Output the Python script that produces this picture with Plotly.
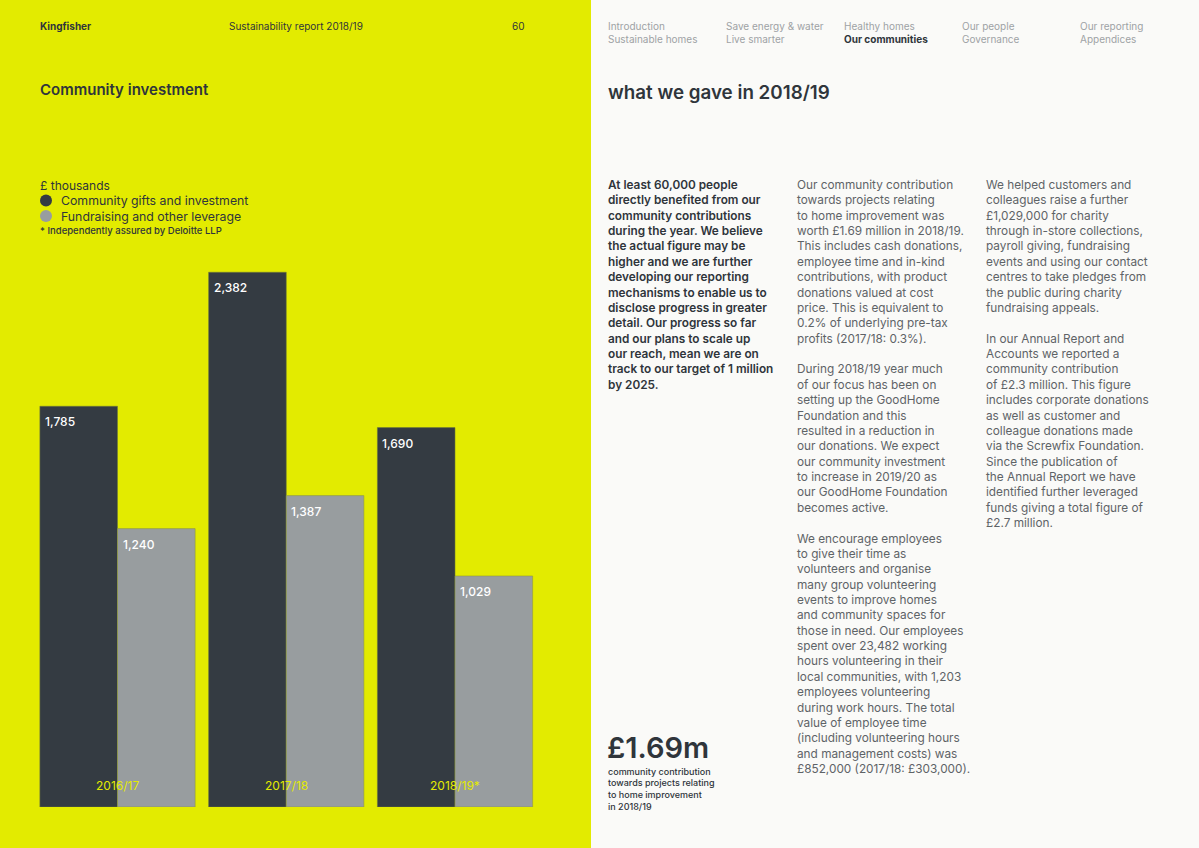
import plotly.graph_objects as go

# ---------------- data ----------------
years = ["2016/17", "2017/18", "2018/19*"]
series_names = ["Community gifts and investment", "Fundraising and other leverage"]
gifts = [1785, 2382, 1690]
fundraising = [1240, 1387, 1029]
value_labels_gifts = ["1,785", "2,382", "1,690"]
value_labels_fund = ["1,240", "1,387", "1,029"]

W, H = 1199, 848
YELLOW = "#E3EB00"
DARK = "#343B42"
GREY = "#989D9F"
PAGE = "#FAFAF8"
FONT = "Inter"


def px(x, y):
    return x / W, 1 - y / H


fig = go.Figure()
xs = list(range(len(years)))
BW = 0.46
fig.add_trace(go.Bar(x=xs, y=gifts, width=BW, offset=-BW, name=series_names[0],
                     marker=dict(color=DARK, line=dict(color="rgba(110,120,60,0.7)", width=0.8)),
                     showlegend=False, hoverinfo="y"))
fig.add_trace(go.Bar(x=xs, y=fundraising, width=BW, offset=0, name=series_names[1],
                     marker=dict(color=GREY, line=dict(color="rgba(140,150,60,0.7)", width=0.8)),
                     showlegend=False, hoverinfo="y"))

ann = []
# value labels inside bars (top-left)
for i in xs:
    ann.append(dict(x=i - BW, y=gifts[i], xref="x", yref="y", text=value_labels_gifts[i],
                    xanchor="left", yanchor="top", xshift=3, yshift=-6, showarrow=False,
                    font=dict(family=FONT, size=12, color="white", weight=500)))
    ann.append(dict(x=i, y=fundraising[i], xref="x", yref="y", text=value_labels_fund[i],
                    xanchor="left", yanchor="top", xshift=3, yshift=-6, showarrow=False,
                    font=dict(family=FONT, size=12, color="white", weight=500)))
    ann.append(dict(x=i, y=0, xref="x", yref="y", text=years[i], xanchor="center",
                    yanchor="bottom", yshift=12, showarrow=False,
                    font=dict(family=FONT, size=12, color=YELLOW)))


def text(x, y, t, size, color, weight=400, xanchor="left", yanchor="middle"):
    px_, py_ = px(x, y)
    ann.append(dict(x=px_, y=py_, xref="paper", yref="paper", text=t, xanchor=xanchor,
                    yanchor=yanchor, align="left", showarrow=False,
                    xshift=-2 if xanchor == "left" else 2,
                    font=dict(family=FONT, size=size, color=color, weight=weight)))


DTXT = "#2F353B"
GTXT = "#5E6367"
NAV = "#9EA2A5"

# left header
text(40, 26, "Kingfisher", 10, DTXT, 700)
text(229, 26, "Sustainability report 2018/19", 10, DTXT, 400)
text(525, 26, "60", 10, DTXT, 400, xanchor="right")
text(40, 89, "Community investment", 15, DTXT, 600)

# legend (drawn)
text(40, 185, "£ thousands", 12, DTXT, 400)
legend_colors = [DARK, GREY]
shapes = []
for k, (nm, c) in enumerate(zip(series_names, legend_colors)):
    yy = 200.5 + k * 15.5
    x0, y0 = px(40, yy - 6)
    x1, y1 = px(52, yy + 6)
    shapes.append(dict(type="circle", xref="paper", yref="paper", x0=x0, x1=x1, y0=y1, y1=y0,
                       fillcolor=c, line=dict(width=0), layer="above"))
    text(61, yy, nm, 12.3, DTXT, 400)
text(40, 231, "* Independently assured by Deloitte LLP", 9.5, DTXT, 500)

# nav
nav = [("Introduction", "Sustainable homes"), ("Save energy & water", "Live smarter"),
       ("Healthy homes", "Our communities"), ("Our people", "Governance"),
       ("Our reporting", "Appendices")]
for k, (a, b) in enumerate(nav):
    x = 608 + k * 118
    text(x, 26, a, 10, NAV, 400)
    if b == "Our communities":
        text(x, 39, b, 10, DTXT, 700)
    else:
        text(x, 39, b, 10, NAV, 400)

text(608, 92, "what we gave in 2018/19", 18.8, DTXT, 600)

col1 = ["At least 60,000 people", "directly benefited from our", "community contributions",
        "during the year. We believe", "the actual figure may be", "higher and we are further",
        "developing our reporting", "mechanisms to enable us to", "disclose progress in greater",
        "detail. Our progress so far", "and our plans to scale up", "our reach, mean we are on",
        "track to our target of 1 million", "by 2025."]
col2 = ["Our community contribution", "towards projects relating", "to home improvement was",
        "worth £1.69 million in 2018/19.", "This includes cash donations,",
        "employee time and in-kind", "contributions, with product", "donations valued at cost",
        "price. This is equivalent to", "0.2% of underlying pre-tax", "profits (2017/18: 0.3%).",
        "", "During 2018/19 year much", "of our focus has been on", "setting up the GoodHome",
        "Foundation and this", "resulted in a reduction in", "our donations. We expect",
        "our community investment", "to increase in 2019/20 as", "our GoodHome Foundation",
        "becomes active.", "", "We encourage employees", "to give their time as",
        "volunteers and organise", "many group volunteering", "events to improve homes",
        "and community spaces for", "those in need. Our employees", "spent over 23,482 working",
        "hours volunteering in their", "local communities, with 1,203", "employees volunteering",
        "during work hours. The total", "value of employee time",
        "(including volunteering hours", "and management costs) was",
        "£852,000 (2017/18: £303,000)."]
col3 = ["We helped customers and", "colleagues raise a further", "£1,029,000 for charity",
        "through in-store collections,", "payroll giving, fundraising",
        "events and using our contact", "centres to take pledges from",
        "the public during charity", "fundraising appeals.", "", "In our Annual Report and",
        "Accounts we reported a", "community contribution", "of £2.3 million. This figure",
        "includes corporate donations", "as well as customer and", "colleague donations made",
        "via the Screwfix Foundation.", "Since the publication of",
        "the Annual Report we have", "identified further leveraged",
        "funds giving a total figure of", "£2.7 million."]

LS = 15.37
for cx, lines, col, wt in [(608, col1, DTXT, 600), (797, col2, GTXT, 400), (986, col3, GTXT, 400)]:
    for j, ln in enumerate(lines):
        if ln:
            text(cx, 185 + j * LS, ln, 11.8, col, wt)

text(607, 747, "£1.69m", 29, DTXT, 600)
cap = ["community contribution", "towards projects relating", "to home improvement", "in 2018/19"]
for j, ln in enumerate(cap):
    text(608, 771 + j * 11.7, ln, 9, DTXT, 500)

# backgrounds
shapes.insert(0, dict(type="rect", xref="paper", yref="paper", x0=0, x1=591 / W, y0=0, y1=1,
                      fillcolor=YELLOW, line=dict(width=0), layer="below"))

x_lo, x_hi = 117.5 - 0.5 * 168.75, 455 + 0.5 * 168.75
y_base, scale = 807, 0.2245
fig.update_layout(
    width=W, height=H, margin=dict(l=0, r=0, t=0, b=0),
    paper_bgcolor=PAGE, plot_bgcolor="rgba(0,0,0,0)",
    barmode="overlay",
    xaxis=dict(domain=[x_lo / W, x_hi / W], range=[-0.5, 2.5], visible=False, fixedrange=True),
    yaxis=dict(domain=[1 - y_base / H, 1 - (y_base - 2400 * scale) / H], range=[0, 2400],
               visible=False, fixedrange=True),
    annotations=ann, shapes=shapes, showlegend=False,
)
fig.write_html("out.html", config={"displayModeBar": False},
               post_script="document.body.style.margin='0';document.body.style.overflow='hidden';")
